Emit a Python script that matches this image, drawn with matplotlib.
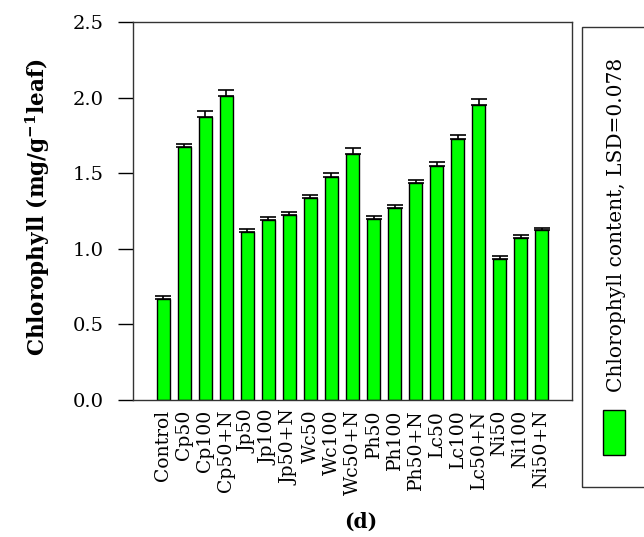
import matplotlib
matplotlib.use("Agg")
import matplotlib.pyplot as plt
from matplotlib.patches import Rectangle

categories = ["Control", "Cp50", "Cp100", "Cp50+N", "Jp50", "Jp100", "Jp50+N",
              "Wc50", "Wc100", "Wc50+N", "Ph50", "Ph100", "Ph50+N", "Lc50",
              "Lc100", "Lc50+N", "Ni50", "Ni100", "Ni50+N"]
values = [0.668, 1.675, 1.872, 2.008, 1.113, 1.190, 1.221, 1.338, 1.475, 1.625,
          1.199, 1.268, 1.437, 1.548, 1.724, 1.949, 0.935, 1.074, 1.122]
errors = [0.02, 0.015, 0.04, 0.04, 0.018, 0.018, 0.02, 0.02, 0.028, 0.04,
          0.02, 0.022, 0.018, 0.026, 0.027, 0.04, 0.017, 0.017, 0.018]
yticks = [0.0, 0.5, 1.0, 1.5, 2.0, 2.5]
legend_label = "Chlorophyll content, LSD=0.078"

plt.rcParams['font.family'] = ['DejaVu Serif']
plt.rcParams['mathtext.fontset'] = 'dejavuserif'

fig = plt.figure(figsize=(6.44, 5.37), dpi=100)
W, H = 644, 537
ax = fig.add_axes([133 / W, 1 - 400 / H, (572 - 133) / W, (400 - 22) / H])

x = list(range(len(categories)))
ax.bar(x, values, width=0.65, color='#00ff00', edgecolor='black', linewidth=1.0, zorder=2)
ax.errorbar(x, values, yerr=[[0] * len(errors), errors], fmt='none', ecolor='black',
            elinewidth=1.2, capsize=5.5, capthick=1.2, zorder=3)

ax.set_xlim(-1.45, len(categories) - 1 + 1.45)
ax.set_ylim(0, 2.5)
ax.set_yticks(yticks)
ax.set_yticklabels([f"{t:.1f}" for t in yticks], fontsize=14)
ax.set_xticks(x)
ax.set_xticklabels(categories, rotation=90, fontsize=13.5, va='top', ha='center')
ax.tick_params(axis='x', length=0, pad=7)
ax.tick_params(axis='y', length=11, width=1.0, direction='out', pad=10)
for s in ax.spines.values():
    s.set_linewidth(1.0)
    s.set_color('#333333')

ax.set_ylabel(r"Chlorophyll (mg/g$^{\mathbf{-1}}$leaf)", fontsize=15.5, fontweight='bold')
ax.yaxis.set_label_coords(-0.185, 0.51)

fig.text(361 / W, 1 - 522 / H, "(d)", fontsize=14.5, fontweight='bold', ha='center', va='center')

# legend box
fig.patches.append(Rectangle((582 / W, 1 - 487 / H), 80 / W, (487 - 27) / H,
                             transform=fig.transFigure, fill=False, edgecolor='#333333',
                             linewidth=1.0, clip_on=False))
fig.patches.append(Rectangle((603 / W, 1 - 455 / H), 22 / W, 45 / H,
                             transform=fig.transFigure, facecolor='#00ff00',
                             edgecolor='black', linewidth=1.0))
fig.text(617 / W, 1 - 225 / H, legend_label, rotation=90, fontsize=14.5,
         ha='center', va='center')

fig.savefig("out.png", dpi=100)
